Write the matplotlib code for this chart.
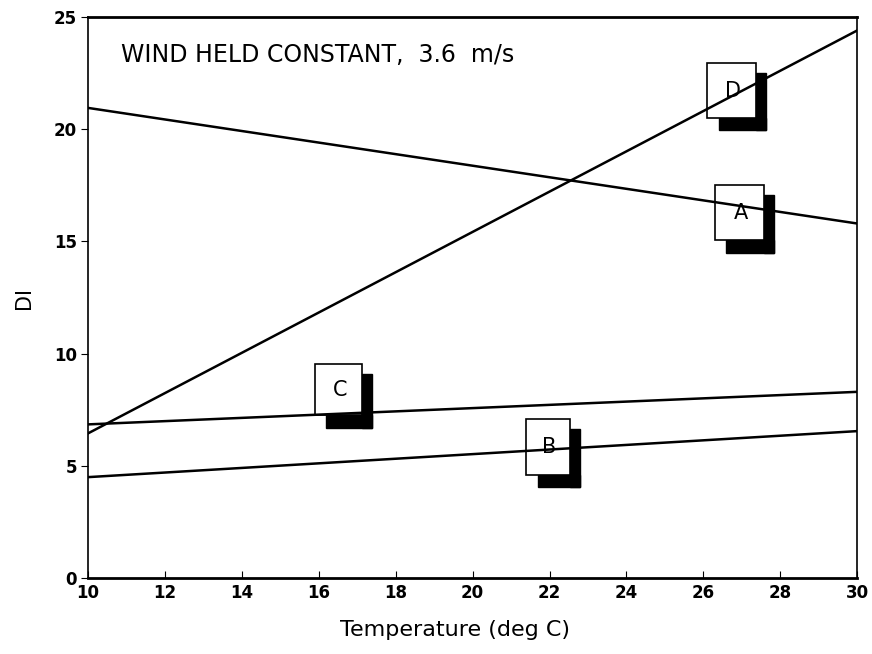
import matplotlib.pyplot as plt
from matplotlib.patches import Rectangle

# end points of the four DI lines (temperature 10 and 30 deg C)
temps = [10, 30]
di_a = [20.95, 15.8]
di_b = [4.5, 6.55]
di_c = [6.85, 8.3]
di_d = [6.45, 24.4]

# label boxes: name, x0, y0, width, height (data units)
labels = ["A", "B", "C", "D"]
box_x = [26.3, 21.4, 15.9, 26.1]
box_y = [15.05, 4.6, 7.25, 20.5]
box_w = [1.35, 1.2, 1.3, 1.35]
box_h = [2.45, 2.5, 2.3, 2.45]

xticks = list(range(10, 31, 2))
yticks = [0, 5, 10, 15, 20, 25]

fig = plt.figure(figsize=(8.72, 6.54), dpi=100)
ax = fig.add_axes([0.101, 0.116, 0.882, 0.858])

for ys in [di_a, di_b, di_c, di_d]:
    ax.plot(temps, ys, color="black", lw=1.8, zorder=3)

# boxes with a heavy shadow on the right and bottom
for name, x0, y0, w, h in zip(labels, box_x, box_y, box_w, box_h):
    dx, dy = 0.18, 0.55
    ax.add_patch(Rectangle((x0 + w - 0.08, y0 - dy), dx + 0.08, h + dy - 0.45,
                           color="black", zorder=2))
    ax.add_patch(Rectangle((x0 + 0.3, y0 - dy), w - 0.3 + dx, dy, color="black", zorder=2))
    ax.add_patch(Rectangle((x0, y0), w - 0.08, h, facecolor="white", edgecolor="black",
                           lw=1.2, zorder=2.5))
    ax.text(x0 + w / 2, y0 + h / 2, name, ha="center", va="center",
            fontsize=15, zorder=4)

ax.text(10.85, 23.3, "WIND HELD CONSTANT,  3.6  m/s", fontsize=17, ha="left", va="center")

ax.set_xlim(10, 30)
ax.set_ylim(0, 25)
ax.set_xticks(xticks)
ax.set_yticks(yticks)
ax.tick_params(axis="x", direction="in", length=5, labelsize=12, pad=4)
ax.tick_params(axis="y", direction="out", length=5, labelsize=12, pad=3)
for lab in ax.get_xticklabels() + ax.get_yticklabels():
    lab.set_fontweight("bold")

for side in ["left", "right"]:
    ax.spines[side].set_linestyle((0, (3, 1)))
    ax.spines[side].set_linewidth(1.2)
for side in ["top", "bottom"]:
    ax.spines[side].set_linewidth(2)

ax.set_xlabel("Temperature (deg C)", fontsize=16)
ax.xaxis.set_label_coords(0.477, -0.075)
ax.set_ylabel("DI", fontsize=15, labelpad=14)

fig.savefig("out.png", dpi=100)
